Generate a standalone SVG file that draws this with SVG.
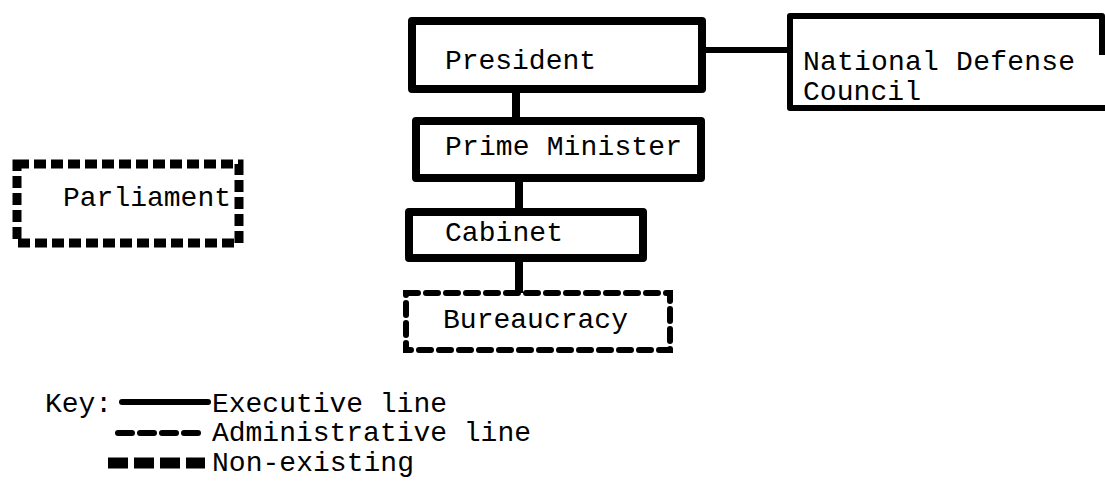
<svg xmlns="http://www.w3.org/2000/svg" width="1105" height="485" viewBox="0 0 1105 485">
  <style>
    .box { fill: #fff; stroke: #000; stroke-width: 8; stroke-linejoin: round; }
    .thin { stroke-width: 6; }
    .admin { fill: none; stroke: #000; stroke-width: 6; stroke-dasharray: 12 8; stroke-linecap: round; }
    .none { fill: none; stroke: #000; stroke-width: 9; stroke-dasharray: 12 5; stroke-linecap: butt; }
    .exec { stroke: #000; stroke-width: 8; fill: none; }
    text { font-family: "Liberation Mono", "Courier New", monospace; font-size: 28px; fill: #000; }
  </style>

  <!-- executive connectors -->
  <g id="connectors">
    <line class="exec" x1="516" y1="89" x2="516" y2="121"/>
    <line class="exec" x1="519" y1="178" x2="519" y2="212"/>
    <line class="exec" x1="519" y1="258" x2="519" y2="293"/>
    <line class="exec" style="stroke-width:6" x1="702" y1="50" x2="790" y2="50"/>
  </g>

  <g id="president">
    <rect class="box" x="412" y="21" width="290" height="68"/>
    <text x="445" y="69" textLength="151">President</text>
  </g>

  <g id="national-defense-council">
    <path class="box thin" d="M1105 108 H790 V16 H1102 V55"/>
    <text x="803" y="70" textLength="272">National Defense</text>
    <text x="803" y="100" textLength="118">Council</text>
  </g>

  <g id="prime-minister">
    <rect class="box" x="416" y="121" width="285" height="57"/>
    <text x="445" y="155" textLength="237">Prime Minister</text>
  </g>

  <g id="cabinet">
    <rect class="box" x="409" y="212" width="234" height="46"/>
    <text x="445" y="241" textLength="118">Cabinet</text>
  </g>

  <g id="bureaucracy">
    <rect fill="#fff" class="admin" x="406" y="293" width="264" height="57"/>
    <text x="443" y="328" textLength="185">Bureaucracy</text>
  </g>

  <g id="parliament">
    <rect class="none" x="17" y="164" width="222" height="79"/>
    <text x="63" y="206" textLength="168">Parliament</text>
  </g>

  <!-- legend -->
  <g id="key">
    <text x="45" y="412" textLength="67">Key:</text>
    <line x1="122" y1="402" x2="208" y2="402" stroke="#000" stroke-width="6" stroke-linecap="round"/>
    <text x="212" y="412" textLength="235">Executive line</text>
    <line class="admin" x1="118" y1="433" x2="204" y2="433" style="stroke-dasharray:14 8"/>
    <text x="212" y="441" textLength="319">Administrative line</text>
    <line class="none" x1="108" y1="463" x2="205" y2="463" style="stroke-width:11;stroke-dasharray:20 6"/>
    <text x="212" y="471" textLength="202">Non-existing</text>
  </g>
</svg>
